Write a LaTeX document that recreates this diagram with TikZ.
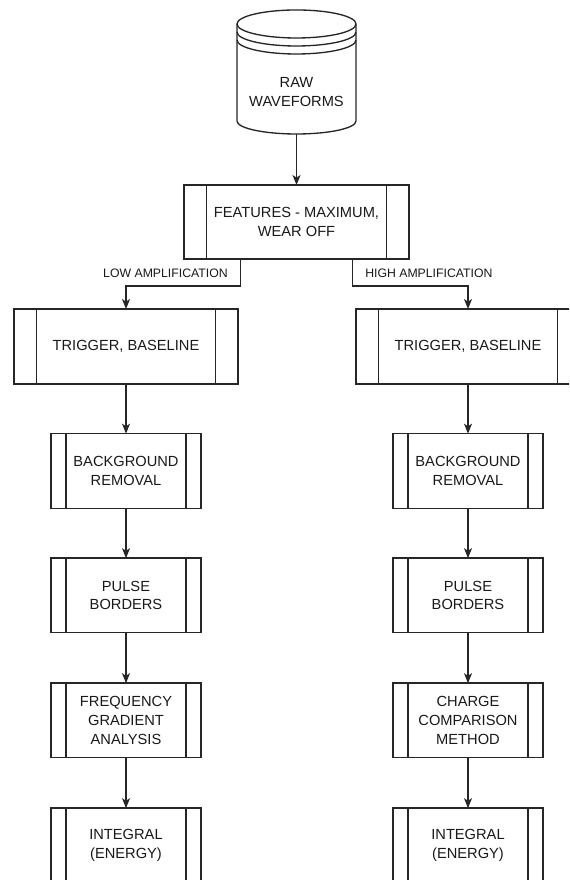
\documentclass[tikz,border=0pt]{standalone}
\usepackage{fontspec}
\setmainfont{Liberation Sans}
\usetikzlibrary{arrows.meta,calc}
\begin{document}
\begin{tikzpicture}[x=0.75pt,y=0.75pt,
  ln/.style={line width=1pt, draw=black!85},
  proc/.style={ln, fill=white, rectangle, inner sep=0pt, outer sep=0pt,
    align=center, text=black!90, font=\fontsize{11pt}{14pt}\selectfont,
    path picture={
      \draw[line width=1pt, black!85]
        ($(path picture bounding box.north west)!0.1!(path picture bounding box.north east)$) --
        ($(path picture bounding box.south west)!0.1!(path picture bounding box.south east)$);
      \draw[line width=1pt, black!85]
        ($(path picture bounding box.north west)!0.9!(path picture bounding box.north east)$) --
        ($(path picture bounding box.south west)!0.9!(path picture bounding box.south east)$);
    }},
  wide/.style={proc, minimum width=168pt, minimum height=56.25pt},
  narrow/.style={proc, minimum width=112.5pt, minimum height=56pt},
  arr/.style={ln, -{Stealth[length=7.5pt,width=6pt,inset=2pt]}},
  lbl/.style={font=\fontsize{9.2pt}{11pt}\selectfont, inner sep=0pt, text=black!90}]

\useasboundingbox (0,0) rectangle (569,880);
\clip (0,0) rectangle (569,880);
\fill[white] (0,0) rectangle (569,880);

% data store cylinder
\draw[ln, fill=white] (237,856) -- (237,759)
  arc[start angle=180, end angle=360, x radius=59.5, y radius=13] -- (356,856);
\draw[ln, fill=white] (296.5,856) ellipse [x radius=59.5, y radius=14];
\draw[ln] (237,848) arc[start angle=180, end angle=360, x radius=59.5, y radius=14];
\draw[ln] (237,840) arc[start angle=180, end angle=360, x radius=59.5, y radius=14];
\node[font=\fontsize{11pt}{14.25pt}\selectfont, align=center, inner sep=0pt,
      text=black!90, minimum width=89.25pt, minimum height=63pt] (raw) at (296.5,788) {RAW\\WAVEFORMS};

% features
\node[proc, minimum width=168.75pt, minimum height=55.5pt] (feat) at (296.5,658)
  {FEATURES - MAXIMUM,\\WEAR OFF};

% left chain
\node[wide] (trigL) at (126,533.5) {TRIGGER, BASELINE};
\node[narrow] (bgL) at (126,409) {BACKGROUND\\REMOVAL};
\node[narrow] (pulseL) at (126,284.5) {PULSE\\BORDERS};
\node[narrow] (freqL) at (126,159.5) {FREQUENCY\\GRADIENT\\ANALYSIS};
\node[narrow] (intL) at (126,34.5) {INTEGRAL\\(ENERGY)};

% right chain
\node[wide] (trigR) at (468,533.5) {TRIGGER, BASELINE};
\node[narrow] (bgR) at (468,409) {BACKGROUND\\REMOVAL};
\node[narrow] (pulseR) at (468,284.5) {PULSE\\BORDERS};
\node[narrow] (chargeR) at (468,159.5) {CHARGE\\COMPARISON\\METHOD};
\node[narrow] (intR) at (468,34.5) {INTEGRAL\\(ENERGY)};

% labels
\node[lbl, anchor=east] (lowlbl) at (228,607) {LOW AMPLIFICATION};
\node[lbl, anchor=west] (highlbl) at (365,607) {HIGH AMPLIFICATION};

% connectors
\draw[arr] (raw.south) -- (feat.north);
\draw[arr] ([xshift=-42pt]feat.south) -- ++(0,-27) -| (trigL.north);
\draw[arr] ([xshift=42pt]feat.south) -- ++(0,-27) -| (trigR.north);

\draw[arr] (trigL.south) -- (bgL.north);
\draw[arr] (bgL.south) -- (pulseL.north);
\draw[arr] (pulseL.south) -- (freqL.north);
\draw[arr] (freqL.south) -- (intL.north);

\draw[arr] (trigR.south) -- (bgR.north);
\draw[arr] (bgR.south) -- (pulseR.north);
\draw[arr] (pulseR.south) -- (chargeR.north);
\draw[arr] (chargeR.south) -- (intR.north);
\end{tikzpicture}
\end{document}
